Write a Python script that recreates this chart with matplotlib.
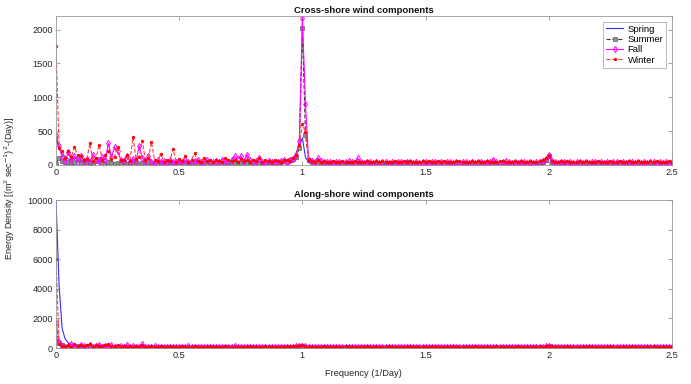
import matplotlib
matplotlib.use("Agg")
import matplotlib.pyplot as plt
import numpy as np
from matplotlib.ticker import FormatStrFormatter

plt.rcParams["font.family"] = ["Liberation Sans", "DejaVu Sans"]

# frequency grid (1/Day), step 1/80
n_pts = 201
freq = np.arange(n_pts) / 80.0

seasons = ["Spring", "Summer", "Fall", "Winter"]

# cross-shore spectra
spring_cs = [
    400, 250, 150, 130, 90, 70, 100, 110, 70, 50, 40, 60, 45, 35, 30, 35, 45, 40, 30, 25,
    30, 25, 20, 35, 25, 40, 30, 25, 20, 30, 25, 20, 30, 25, 20, 30, 25, 20, 20, 25,
    20, 25, 30, 20, 25, 20, 30, 25, 20, 25, 30, 20, 25, 30, 40, 35, 50, 45, 40, 35,
    40, 30, 35, 30, 25, 30, 25, 30, 35, 40, 30, 35, 40, 50, 40, 50, 60, 80, 180, 300,
    400, 110, 40, 35, 30, 25, 20, 30, 25, 20, 25, 20, 15, 20, 25, 20, 15, 20, 25, 20,
    20, 15, 22, 25, 18, 15, 20, 16, 22, 25, 20, 14, 20, 26, 20, 15, 18, 15, 22, 25,
    20, 14, 21, 15, 19, 24, 20, 16, 20, 14, 22, 25, 18, 15, 20, 16, 21, 24, 20, 15,
    19, 15, 22, 25, 18, 15, 20, 16, 20, 24, 21, 15, 20, 25, 30, 25, 30, 40, 60, 90,
    140, 60, 30, 25, 20, 15, 22, 16, 20, 25, 18, 15, 20, 14, 21, 25, 20, 15, 19, 15,
    20, 24, 20, 15, 21, 16, 20, 25, 18, 15, 22, 14, 20, 24, 19, 15, 21, 16, 20, 25,
    20,
]
summer_cs = [
    10, 110, 60, 40, 50, 30, 40, 70, 30, 20, 40, 30, 20, 60, 90, 30, 20, 40, 25, 20,
    30, 20, 40, 20, 30, 50, 25, 20, 30, 15, 40, 20, 25, 30, 20, 15, 25, 40, 20, 30,
    20, 30, 25, 15, 20, 30, 35, 20, 25, 15, 30, 20, 35, 25, 20, 30, 40, 25, 30, 35,
    30, 25, 35, 40, 30, 25, 20, 35, 30, 40, 45, 30, 35, 50, 60, 45, 70, 90, 120, 250,
    2030, 450, 80, 40, 35, 30, 25, 30, 20, 25, 30, 20, 25, 20, 30, 25, 20, 25, 30, 20,
    25, 20, 30, 25, 20, 25, 20, 30, 25, 20, 25, 20, 30, 25, 45, 35, 20, 25, 20, 30,
    20, 25, 30, 20, 25, 20, 30, 25, 20, 25, 30, 20, 25, 20, 30, 25, 20, 25, 20, 30,
    25, 20, 30, 25, 20, 25, 30, 20, 25, 20, 30, 25, 20, 25, 30, 20, 25, 30, 40, 80,
    130, 40, 25, 20, 30, 25, 20, 25, 30, 20, 25, 20, 30, 25, 20, 25, 30, 20, 25, 20,
    30, 25, 20, 25, 30, 20, 25, 20, 30, 25, 20, 25, 30, 20, 25, 20, 30, 25, 20, 25,
    20,
]
fall_cs = [
    450, 280, 120, 60, 190, 70, 130, 50, 140, 60, 90, 40, 150, 80, 60, 120, 70, 320, 120, 260,
    200, 80, 60, 140, 50, 90, 60, 280, 100, 60, 130, 50, 40, 80, 50, 60, 40, 70, 50, 40,
    60, 40, 70, 50, 40, 60, 80, 50, 40, 70, 50, 40, 60, 50, 80, 60, 50, 70, 130, 90,
    130, 60, 150, 70, 50, 60, 110, 50, 40, 60, 50, 40, 50, 60, 70, 50, 80, 90, 150, 350,
    2170, 900, 80, 60, 50, 100, 60, 40, 50, 40, 30, 40, 50, 30, 40, 60, 40, 30, 100, 40,
    30, 40, 50, 30, 40, 30, 50, 40, 30, 40, 30, 50, 40, 30, 40, 50, 30, 40, 30, 50,
    40, 30, 40, 50, 30, 40, 30, 40, 50, 30, 40, 30, 50, 40, 30, 40, 30, 50, 40, 30,
    40, 50, 80, 40, 30, 40, 60, 40, 30, 40, 30, 50, 40, 30, 40, 30, 40, 50, 60, 90,
    150, 60, 40, 30, 40, 50, 30, 40, 30, 40, 50, 30, 40, 30, 40, 50, 30, 40, 30, 40,
    30, 40, 50, 30, 40, 30, 40, 50, 30, 40, 30, 40, 30, 50, 40, 30, 40, 30, 40, 30,
    40,
]
winter_cs = [
    1750, 250, 210, 100, 210, 120, 270, 150, 140, 80, 90, 320, 60, 100, 300, 80, 150, 200, 90, 120,
    270, 70, 80, 150, 60, 410, 90, 120, 360, 80, 100, 340, 70, 60, 160, 50, 80, 60, 240, 50,
    90, 60, 140, 50, 80, 170, 60, 50, 100, 60, 80, 50, 70, 60, 50, 100, 70, 60, 80, 50,
    90, 60, 70, 50, 80, 60, 110, 50, 70, 60, 50, 80, 60, 50, 70, 80, 60, 100, 150, 300,
    600, 480, 80, 60, 50, 70, 40, 60, 50, 40, 60, 50, 40, 60, 50, 40, 50, 60, 40, 50,
    40, 60, 50, 40, 55, 45, 60, 40, 50, 45, 60, 40, 50, 55, 40, 60, 45, 50, 40, 55,
    45, 60, 40, 50, 55, 40, 60, 45, 50, 40, 55, 60, 40, 50, 45, 60, 40, 55, 50, 40,
    60, 45, 50, 40, 55, 60, 40, 50, 45, 60, 40, 55, 50, 40, 60, 45, 50, 60, 80, 100,
    130, 60, 50, 40, 55, 45, 60, 40, 50, 45, 55, 40, 60, 50, 45, 40, 55, 50, 40, 45,
    55, 40, 50, 60, 45, 40, 55, 50, 40, 60, 45, 50, 40, 55, 45, 60, 40, 50, 45, 55,
    40,
]

# along-shore spectra
spring_as = [
    10000, 4200, 1300, 600, 350, 250, 200, 180, 230, 150, 200, 260, 180, 150, 220, 130, 160, 120, 140, 110,
    120, 100, 130, 90, 110, 100, 80, 120, 90, 100, 80, 110, 90, 70, 100, 80, 120, 90, 70, 100,
    80, 70, 90, 60, 80, 70, 90, 60, 80, 70, 60, 80, 70, 90, 60, 80, 70, 60, 80, 70,
    60, 80, 70, 90, 60, 70, 80, 60, 70, 90, 60, 80, 70, 60, 80, 90, 70, 100, 120, 150,
    250, 120, 80, 70, 60, 80, 70, 60, 80, 70, 60, 70, 80, 60, 70, 60, 80, 70, 60, 70,
    80, 60, 70, 60, 80, 70, 60, 70, 80, 60, 70, 80, 60, 70, 60, 80, 70, 60, 70, 80,
    60, 70, 80, 60, 70, 60, 80, 70, 60, 70, 80, 60, 70, 60, 80, 70, 60, 70, 80, 60,
    70, 80, 60, 70, 60, 80, 70, 60, 70, 80, 60, 70, 60, 80, 70, 60, 70, 80, 90, 100,
    120, 90, 70, 60, 80, 70, 60, 70, 80, 60, 70, 60, 80, 70, 60, 70, 80, 60, 70, 60,
    80, 70, 60, 70, 80, 60, 70, 60, 80, 70, 60, 70, 80, 60, 70, 60, 80, 70, 60, 70,
    80,
]
summer_as = [
    650, 350, 200, 100, 80, 120, 90, 150, 100, 80, 120, 90, 80, 100, 70, 90, 110, 80, 70, 90,
    80, 60, 90, 70, 80, 60, 90, 70, 60, 80, 70, 60, 90, 70, 60, 80, 70, 60, 80, 70,
    60, 80, 70, 60, 80, 70, 60, 80, 70, 60, 80, 70, 60, 80, 70, 60, 80, 70, 60, 80,
    70, 60, 80, 70, 60, 80, 70, 60, 80, 70, 60, 80, 70, 60, 80, 70, 90, 80, 100, 120,
    150, 100, 70, 60, 80, 70, 60, 80, 70, 60, 80, 70, 60, 80, 70, 60, 80, 70, 60, 80,
    70, 60, 80, 70, 60, 80, 70, 60, 80, 70, 60, 80, 70, 60, 80, 70, 60, 80, 70, 60,
    80, 70, 60, 80, 70, 60, 80, 70, 60, 80, 70, 60, 80, 70, 60, 80, 70, 60, 80, 70,
    60, 80, 70, 60, 80, 70, 60, 80, 70, 60, 80, 70, 60, 80, 70, 60, 80, 70, 80, 90,
    110, 80, 70, 60, 80, 70, 60, 80, 70, 60, 80, 70, 60, 80, 70, 60, 80, 70, 60, 80,
    70, 60, 80, 70, 60, 80, 70, 60, 80, 70, 60, 80, 70, 60, 80, 70, 60, 80, 70, 60,
    80,
]
fall_as = [
    1700, 400, 120, 80, 150, 250, 100, 80, 200, 150, 100, 220, 80, 150, 180, 100, 120, 80, 200, 100,
    80, 150, 100, 230, 80, 120, 90, 100, 260, 80, 100, 70, 120, 90, 80, 100, 70, 90, 80, 100,
    70, 90, 80, 120, 70, 90, 80, 70, 100, 80, 90, 70, 80, 100, 70, 90, 80, 70, 120, 80,
    90, 70, 100, 80, 70, 90, 80, 70, 100, 80, 90, 70, 80, 90, 70, 100, 80, 90, 110, 120,
    160, 110, 80, 90, 70, 80, 100, 70, 90, 80, 70, 90, 80, 100, 70, 80, 90, 70, 80, 100,
    70, 90, 80, 70, 90, 100, 70, 80, 90, 70, 80, 100, 70, 90, 80, 70, 90, 80, 100, 70,
    80, 90, 70, 80, 100, 70, 90, 80, 70, 90, 80, 100, 70, 80, 90, 70, 80, 100, 70, 90,
    80, 70, 90, 80, 100, 70, 80, 90, 70, 80, 100, 70, 90, 80, 70, 90, 80, 100, 90, 110,
    130, 90, 80, 70, 90, 80, 100, 70, 80, 90, 70, 80, 100, 70, 90, 80, 70, 90, 80, 100,
    70, 80, 90, 70, 80, 100, 70, 90, 80, 70, 90, 80, 100, 70, 80, 90, 70, 80, 100, 70,
    90,
]
winter_as = [
    6000, 300, 150, 120, 200, 100, 280, 150, 200, 120, 180, 250, 100, 200, 150, 120, 180, 300, 120, 150,
    200, 100, 150, 80, 120, 100, 150, 90, 200, 100, 80, 120, 90, 100, 150, 80, 100, 120, 80, 100,
    90, 110, 80, 100, 90, 120, 80, 100, 90, 80, 110, 90, 100, 80, 90, 110, 80, 100, 90, 80,
    100, 90, 80, 110, 90, 100, 80, 90, 110, 80, 100, 90, 80, 100, 90, 110, 100, 120, 130, 150,
    180, 130, 100, 90, 80, 100, 90, 110, 80, 100, 90, 80, 100, 90, 110, 80, 100, 90, 80, 100,
    90, 110, 80, 100, 90, 80, 100, 90, 110, 80, 100, 90, 80, 100, 90, 110, 80, 100, 90, 80,
    100, 90, 110, 80, 100, 90, 80, 100, 90, 110, 80, 100, 90, 80, 100, 90, 110, 80, 100, 90,
    80, 100, 90, 110, 80, 100, 90, 80, 100, 90, 110, 80, 100, 90, 80, 100, 90, 110, 100, 120,
    140, 110, 90, 80, 100, 90, 110, 80, 100, 90, 80, 100, 90, 110, 80, 100, 90, 80, 100, 90,
    110, 80, 100, 90, 80, 100, 90, 110, 80, 100, 90, 80, 100, 90, 110, 80, 100, 90, 80, 100,
    90,
]

styles = {
    "Spring": dict(color="#3030ff", ls="-", lw=0.8, marker=None),
    "Summer": dict(color="#303030", ls="--", lw=0.8, marker="s", ms=2.2,
                   mfc="#909090", mec="#606060", mew=0.5),
    "Fall": dict(color="#ff00ff", ls="-", lw=0.8, marker="d", ms=3.2,
                 mfc="none", mec="#ff00ff", mew=0.7),
    "Winter": dict(color="#ff4040", ls="--", lw=0.8, marker="o", ms=2.0,
                   mfc="#ff0000", mec="#ff0000", mew=0.4),
}

W, H = 691, 384
fig = plt.figure(figsize=(W / 100, H / 100), dpi=100)
ax1 = fig.add_axes([56 / W, 1 - 165 / H, (672 - 56) / W, (165 - 16) / H])
ax2 = fig.add_axes([56 / W, 1 - 348 / H, (672 - 56) / W, (348 - 200) / H])

panels = [
    (ax1, [spring_cs, summer_cs, fall_cs, winter_cs], "Cross-shore wind components",
     2200, [0, 500, 1000, 1500, 2000]),
    (ax2, [spring_as, summer_as, fall_as, winter_as], "Along-shore wind components",
     10000, [0, 2000, 4000, 6000, 8000, 10000]),
]

for ax, series, title, ymax, yt in panels:
    for name, vals in zip(seasons, series):
        ax.plot(freq, vals, label=name, **styles[name])
    ax.set_xlim(0, 2.5)
    ax.set_ylim(0, ymax)
    ax.set_xticks([0, 0.5, 1, 1.5, 2, 2.5])
    ax.set_yticks(yt)
    ax.xaxis.set_major_formatter(FormatStrFormatter("%g"))
    ax.yaxis.set_major_formatter(FormatStrFormatter("%g"))
    ax.tick_params(direction="in", length=3, width=0.5, color="#808080",
                   labelsize=6.6, labelcolor="#262626", top=True, right=True, pad=2)
    for sp in ax.spines.values():
        sp.set_color("#999999")
        sp.set_linewidth(0.6)
    ax.set_title(title, fontsize=6.8, fontweight="bold", pad=2, color="#111111")

leg = ax1.legend(loc="upper right", fontsize=6.8, frameon=True, fancybox=False,
                 borderaxespad=0.6, handlelength=1.8, handletextpad=0.5,
                 labelspacing=0.15, borderpad=0.3)
leg.get_frame().set_edgecolor("#999999")
leg.get_frame().set_linewidth(0.6)

fig.text(0.014, 1 - 188 / H, "Energy Density [(m$^2$ sec$^{-1}$)$^2$-(Day)]", rotation=90,
         ha="center", va="center", fontsize=6.5, color="#262626")
fig.text(363 / W, 1 - 373 / H, "Frequency (1/Day)", ha="center", va="center",
         fontsize=6.7, color="#262626")

fig.savefig("out.png", dpi=100)
